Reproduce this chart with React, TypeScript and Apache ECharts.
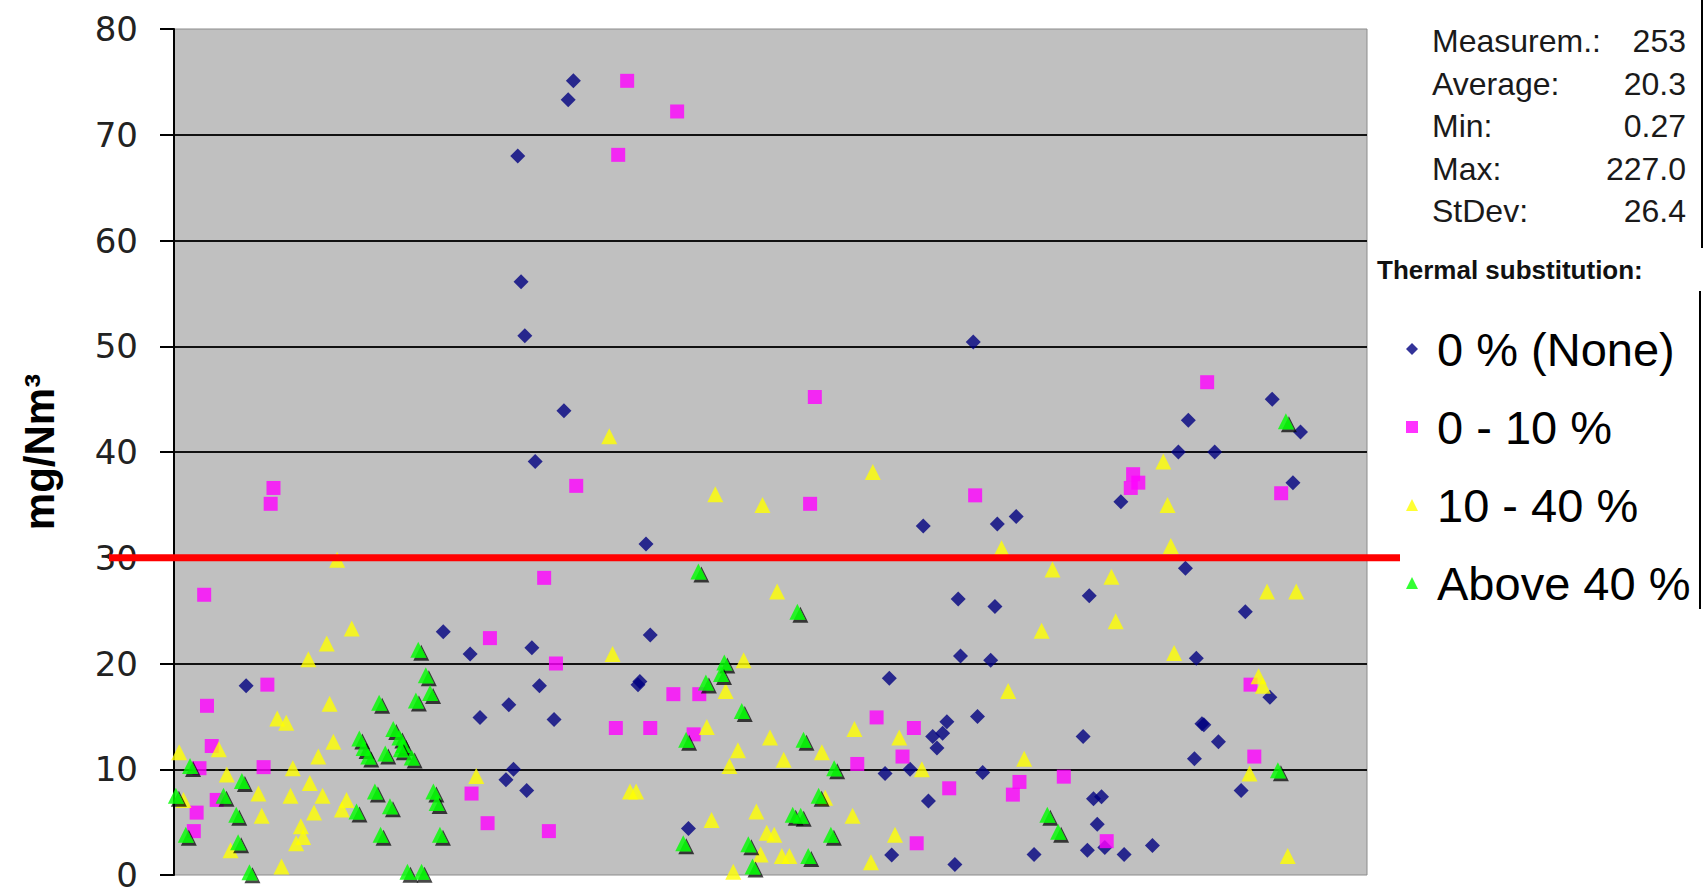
import { useEffect, useRef } from "react";
import * as echarts from "echarts";

// [sample position, concentration mg/Nm³]
const noneData: [number, number][] = [
  [15.3, 17.9],
  [57.1, 23.0], [62.8, 20.9], [64.9, 14.9], [71.0, 16.1], [72.0, 10.0], [70.4, 9.0], [74.8, 8.0],
  [75.9, 21.5], [77.5, 17.9], [80.6, 14.7], [76.6, 39.1],
  [72.9, 68.0], [73.6, 56.1], [74.4, 51.0], [82.7, 43.9], [83.6, 73.3], [84.7, 75.1],
  [100.1, 31.3], [101.0, 22.7], [98.8, 18.3], [98.4, 18.0], [109.1, 4.4],
  [158.9, 33.0], [166.3, 26.1], [166.8, 20.7], [151.7, 18.6], [163.9, 14.5], [163.0, 13.4],
  [160.9, 13.1], [161.8, 12.0], [170.4, 15.0], [150.8, 9.6], [156.1, 10.0], [160.0, 7.0],
  [152.2, 1.9], [165.6, 1.0], [171.5, 9.7],
  [169.5, 50.4],
  [213.0, 40.0], [200.8, 35.3], [178.6, 33.9], [174.6, 33.2], [194.1, 26.4], [174.1, 25.4],
  [173.2, 20.3], [192.8, 13.1], [195.0, 7.2], [196.7, 7.4], [195.8, 4.8], [182.4, 1.95],
  [193.7, 2.35], [197.4, 2.6], [201.5, 1.95], [207.5, 2.8],
  [220.7, 40.0], [238.9, 41.9], [237.3, 37.1], [214.5, 29.0], [227.2, 24.9], [216.8, 20.5],
  [232.4, 16.8], [218.0, 14.3], [218.4, 14.2], [221.5, 12.6], [216.4, 11.0], [226.3, 8.0],
  [215.1, 43.0], [232.9, 45.0],
];

const lowData: [number, number][] = [
  [21.1, 36.6], [20.5, 35.1], [6.4, 26.5], [19.8, 18.0], [7.0, 16.0], [8.0, 12.2], [5.4, 10.1],
  [19.0, 10.2], [9.05, 7.1], [4.8, 5.9], [4.2, 4.15],
  [78.5, 28.1], [67.0, 22.4], [81.0, 20.0], [63.1, 7.7], [66.5, 4.9], [79.5, 4.15], [85.3, 36.8],
  [96.1, 75.1], [94.2, 68.1], [106.7, 72.2], [135.9, 45.2], [219.1, 46.6],
  [105.9, 17.1], [111.4, 17.1], [93.7, 13.9], [101.0, 13.9], [110.2, 13.3],
  [134.9, 35.1], [169.9, 35.9], [149.0, 14.9], [156.9, 13.9], [154.5, 11.2], [144.9, 10.5],
  [164.4, 8.2], [157.5, 3.0],
  [203.4, 37.9], [204.5, 37.1], [202.9, 36.6], [179.3, 8.8], [177.9, 7.6], [188.7, 9.3], [197.8, 3.2],
  [234.8, 36.1], [228.3, 18.0], [229.1, 11.2],
];

const midData: [number, number][] = [
  [34.6, 29.8], [37.7, 23.3], [32.4, 21.9], [28.5, 20.4], [33.0, 16.2], [21.9, 14.8], [23.8, 14.4],
  [33.8, 12.6], [30.6, 11.2], [1.1, 11.6], [9.5, 11.9], [11.2, 9.5], [25.2, 10.1], [17.9, 7.7],
  [24.7, 7.5], [28.8, 8.7], [31.5, 7.5], [36.6, 7.1], [35.6, 6.2], [2.0, 7.1], [18.6, 5.6],
  [29.7, 5.9], [26.9, 4.6], [27.4, 3.6], [25.9, 3.0], [12.0, 2.35], [22.8, 0.8],
  [64.1, 9.35],
  [92.3, 41.5], [114.8, 36.0], [124.8, 35.0], [127.9, 26.8], [93.0, 20.9], [120.8, 20.3],
  [117.0, 17.4], [113.0, 14.0], [126.4, 13.0], [119.6, 11.8], [117.8, 10.3], [96.7, 7.9],
  [98.0, 7.9], [123.5, 6.0], [114.0, 5.2], [125.7, 4.0], [127.3, 3.8], [124.4, 1.95], [118.6, 0.3],
  [148.2, 38.1], [144.3, 13.8], [153.8, 13.0], [137.4, 11.6], [129.3, 10.9], [158.6, 10.0],
  [138.1, 7.3], [143.9, 5.6], [152.9, 3.8], [128.9, 1.8], [130.5, 1.8], [147.8, 1.2],
  [209.8, 39.1], [210.7, 35.0], [211.4, 31.1], [175.5, 30.9], [186.3, 28.9], [198.8, 28.2],
  [184.0, 23.1], [199.7, 24.0], [212.1, 21.0], [176.9, 17.4], [180.3, 11.0],
  [231.8, 26.8], [238.0, 26.8], [230.0, 18.8], [230.9, 17.9], [228.1, 9.6], [236.2, 1.8],
];

const highData: [number, number][] = [
  [3.4, 10.3], [14.4, 8.9], [0.4, 7.5], [10.5, 7.5], [13.2, 5.7], [2.5, 3.8], [13.6, 3.1], [16.0, 0.27],
  [39.3, 12.9], [40.2, 12.0], [41.2, 11.2], [38.7, 6.0], [42.6, 7.9], [43.8, 3.8], [43.5, 16.3],
  [44.8, 11.5], [45.8, 6.5], [46.5, 13.8], [47.8, 13.0], [48.6, 12.3], [48.1, 11.9], [50.4, 11.1],
  [49.5, 0.3], [51.3, 16.5], [51.8, 21.3], [52.5, 0.3], [53.4, 18.9], [54.3, 17.2], [55.0, 7.9],
  [55.7, 6.8], [56.4, 3.8],
  [111.2, 28.7], [116.7, 20.1], [116.0, 19.0], [112.8, 18.2], [120.4, 15.5], [108.6, 12.8],
  [108.0, 3.0], [121.8, 2.9], [122.7, 0.8],
  [132.2, 24.9], [133.5, 12.8], [140.0, 10.1], [136.7, 7.5], [131.2, 5.7], [132.9, 5.6],
  [139.3, 3.8], [134.5, 1.8],
  [185.2, 5.7], [187.5, 4.1],
  [234.1, 9.9], [235.8, 42.9],
];

const seriesNames = ["0 % (None)", "0 - 10 %", "10 - 40 %", "Above 40 %"];
const measurementCount = 253;
const limitValue = 30;
const statLabels = ["Measurem.:", "Average:", "Min:", "Max:", "StDev:"];
const statValues = ["253", "20.3", "0.27", "227.0", "26.4"];
const yMin = 0;
const yMax = 80;
const yStep = 10;

const SANS = "'Liberation Sans', Arial, sans-serif";

export default function App() {
  const ref = useRef<HTMLDivElement>(null);

  useEffect(() => {
    document.body.style.margin = "0";
    const el = ref.current;
    if (!el) return;
    const chart = echarts.init(el, null, { renderer: "svg" });

    const plainIcon = {
      shadowBlur: 0,
      shadowOffsetX: 0,
      shadowOffsetY: 0,
      shadowColor: "rgba(0,0,0,0)",
    };

    chart.setOption({
      animation: false,
      backgroundColor: "#ffffff",
      grid: {
        left: 174,
        right: 339,
        top: 29,
        bottom: 20,
        show: true,
        backgroundColor: "#C0C0C0",
        borderColor: "#8c8c8c",
        borderWidth: 1,
      },
      xAxis: {
        type: "value",
        min: 0,
        max: measurementCount,
        show: false,
      },
      yAxis: {
        type: "value",
        min: yMin,
        max: yMax,
        interval: yStep,
        name: "mg/Nm³",
        nameLocation: "middle",
        nameGap: 114,
        nameRotate: 90,
        nameTextStyle: {
          fontFamily: SANS,
          fontWeight: "bold",
          fontSize: 42,
          color: "#000",
        },
        axisLine: { show: true, lineStyle: { color: "#000", width: 2 } },
        axisTick: { show: true, length: 14, lineStyle: { color: "#000", width: 2 } },
        axisLabel: {
          margin: 36,
          fontFamily: "'DejaVu Sans', sans-serif",
          fontSize: 34,
          color: "#222",
        },
        splitLine: {
          show: true,
          showMinLine: false,
          showMaxLine: false,
          lineStyle: { color: "#111", width: 2 },
        },
      },
      legend: {
        orient: "vertical",
        left: 1401,
        top: 316,
        itemWidth: 12,
        itemHeight: 12,
        itemGap: 22,
        selectedMode: false,
        textStyle: {
          fontFamily: SANS,
          fontSize: 47,
          color: "#000",
          lineHeight: 56,
          padding: [0, 0, 0, 14],
        },
        data: [
          { name: seriesNames[0], icon: "diamond", itemStyle: plainIcon },
          { name: seriesNames[1], icon: "rect", itemStyle: plainIcon },
          { name: seriesNames[2], icon: "triangle", itemStyle: plainIcon },
          { name: seriesNames[3], icon: "triangle", itemStyle: plainIcon },
        ],
      },
      series: [
        {
          name: seriesNames[0],
          type: "scatter",
          symbol: "diamond",
          symbolSize: 15,
          itemStyle: { color: "#000080" },
          data: noneData,
          silent: true,
        },
        {
          name: seriesNames[1],
          type: "scatter",
          symbol: "rect",
          symbolSize: 14,
          itemStyle: { color: "#FF00FF" },
          data: lowData,
          silent: true,
        },
        {
          name: seriesNames[2],
          type: "scatter",
          symbol: "triangle",
          symbolSize: 16,
          itemStyle: { color: "#FFFF00" },
          data: midData,
          silent: true,
        },
        {
          name: seriesNames[3],
          type: "scatter",
          symbol: "triangle",
          symbolSize: 16,
          itemStyle: {
            color: "#00FF00",
            shadowColor: "rgba(0,0,0,0.9)",
            shadowBlur: 1,
            shadowOffsetX: 3,
            shadowOffsetY: 3,
          },
          data: highData,
          silent: true,
        },
      ],
    });

    // Emission limit line, positioned through the value axis
    const limitY = chart.convertToPixel({ yAxisIndex: 0 }, limitValue) as number;

    const statRowTop = 41;
    const statRowStep = 42.6;
    const statTexts: any[] = [];
    statLabels.forEach((label, i) => {
      statTexts.push({
        type: "text",
        x: 1432,
        y: statRowTop + statRowStep * i,
        style: {
          text: label,
          fontFamily: SANS,
          fontSize: 32,
          fill: "#1a1a1a",
          align: "left",
          verticalAlign: "middle",
        },
      });
      statTexts.push({
        type: "text",
        x: 1686,
        y: statRowTop + statRowStep * i,
        style: {
          text: statValues[i],
          fontFamily: SANS,
          fontSize: 32,
          fill: "#1a1a1a",
          align: "right",
          verticalAlign: "middle",
        },
      });
    });

    chart.setOption({
      graphic: [
        {
          type: "line",
          z: 100,
          shape: { x1: 109, y1: limitY, x2: 1400, y2: limitY },
          style: { stroke: "#FF0000", lineWidth: 7 },
        },
        ...statTexts,
        {
          type: "line",
          shape: { x1: 1702, y1: 0, x2: 1702, y2: 248 },
          style: { stroke: "#000", lineWidth: 2 },
        },
        {
          type: "text",
          x: 1377,
          y: 270,
          style: {
            text: "Thermal substitution:",
            fontFamily: SANS,
            fontWeight: "bold",
            fontSize: 26,
            fill: "#111",
            align: "left",
            verticalAlign: "middle",
          },
        },
        {
          type: "line",
          shape: { x1: 1700, y1: 291, x2: 1700, y2: 609 },
          style: { stroke: "#000", lineWidth: 2 },
        },
      ],
    });

    return () => chart.dispose();
  }, []);

  return <div ref={ref} style={{ width: 1706, height: 895 }} />;
}
